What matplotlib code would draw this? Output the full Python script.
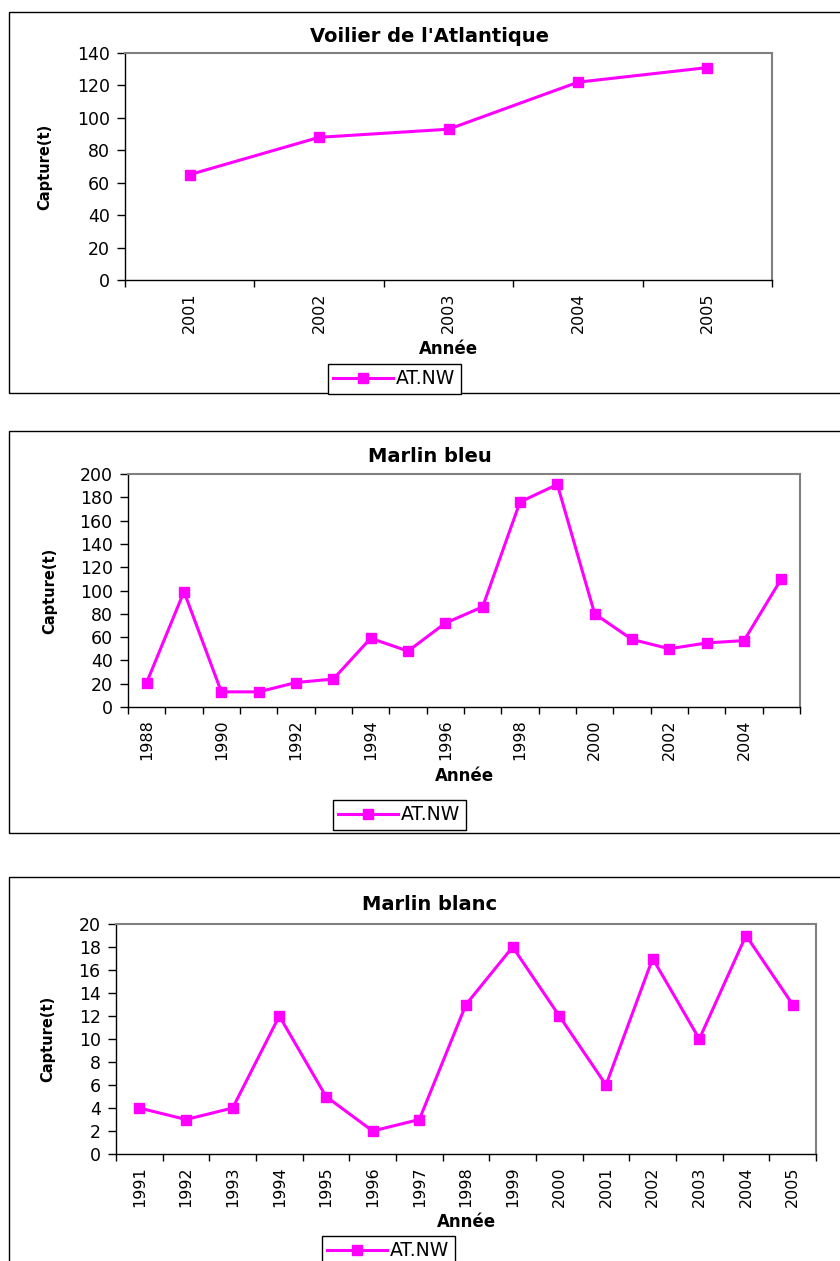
import matplotlib.pyplot as plt
from matplotlib.patches import Rectangle
from matplotlib.ticker import FixedLocator, NullFormatter

plt.rcParams['font.family'] = ['DejaVu Sans']

# Voilier de l'Atlantique
years_voilier = ['2001', '2002', '2003', '2004', '2005']
catch_voilier = [65, 88, 93, 122, 131]

# Marlin bleu
years_bleu = [str(y) for y in range(1988, 2006)]
catch_bleu = [21, 99, 13, 13, 21, 24, 59, 48, 72, 86, 176, 191, 80, 58, 50, 55, 57, 110]

# Marlin blanc
years_blanc = [str(y) for y in range(1991, 2006)]
catch_blanc = [4, 3, 4, 12, 5, 2, 3, 13, 18, 12, 6, 17, 10, 19, 13]

series_name = 'AT.NW'
W, H = 840, 1261
MAG = '#FF00FF'

fig = plt.figure(figsize=(W / 100, H / 100), dpi=100)
fig.patch.set_facecolor('white')


def px_box(x0, y0, x1, y1):
    return [x0 / W, 1 - y1 / H, (x1 - x0) / W, (y1 - y0) / H]


def panel(frame, box, title, title_y, ylab_x, xlab_y, leg_box,
          labels, values, ymax, ystep, label_every=1):
    # cadre du graphique
    fx0, fy0, fx1, fy1 = frame
    fig.add_artist(Rectangle((fx0 / W, 1 - fy1 / H), (fx1 - fx0) / W, (fy1 - fy0) / H,
                             transform=fig.transFigure, fill=False,
                             edgecolor='black', linewidth=1.0))
    ax = fig.add_axes(px_box(*box))
    n = len(values)
    x = list(range(n))
    ax.plot(x, values, color=MAG, linewidth=2.2, marker='s', markersize=6.5,
            markerfacecolor=MAG, markeredgecolor=MAG, label=series_name)
    ax.set_xlim(-0.5, n - 0.5)
    ax.set_ylim(0, ymax)
    ax.set_yticks(range(0, ymax + 1, ystep))
    ax.tick_params(axis='y', direction='out', length=6, width=1, labelsize=12.5, pad=5)

    major = [i for i in x if i % label_every == 0]
    ax.set_xticks(major)
    ax.set_xticklabels([labels[i] for i in major], rotation=90)
    ax.xaxis.set_minor_locator(FixedLocator([i - 0.5 for i in range(n + 1)]))
    ax.xaxis.set_minor_formatter(NullFormatter())
    ax.tick_params(axis='x', which='major', length=0, labelsize=11.5, pad=9)
    ax.tick_params(axis='x', which='minor', direction='out', length=5, width=1)

    for s in ['left', 'bottom']:
        ax.spines[s].set_color('black')
        ax.spines[s].set_linewidth(1.0)
    for s in ['top', 'right']:
        ax.spines[s].set_color('#808080')
        ax.spines[s].set_linewidth(1.5)

    bx0, by0, bx1, by1 = box
    fig.text(430 / W, 1 - title_y / H, title, ha='center', va='center',
             fontsize=14, fontweight='bold')
    fig.text(ylab_x / W, 1 - (by0 + by1) / 2 / H, 'Capture(t)', ha='center',
             va='center', rotation=90, fontsize=10.5, fontweight='bold')
    fig.text((bx0 + bx1) / 2 / W, 1 - xlab_y / H, 'Année', ha='center',
             va='center', fontsize=12, fontweight='bold')

    lx0, ly0, lx1, ly1 = leg_box
    leg = fig.legend(handles=ax.get_lines(), loc='center',
                     bbox_to_anchor=((lx0 + lx1) / 2 / W, 1 - (ly0 + ly1) / 2 / H),
                     bbox_transform=fig.transFigure, fontsize=13.5,
                     fancybox=False, framealpha=1, edgecolor='black',
                     handlelength=3.2, handletextpad=0.15, borderpad=0.3,
                     borderaxespad=0)
    leg.get_frame().set_linewidth(1.0)
    return ax


panel((9, 12, 850, 393), (125, 53, 772, 280), "Voilier de l'Atlantique", 36, 45, 349,
      (322, 365, 467, 393), years_voilier, catch_voilier, 140, 20)

panel((9, 431, 850, 833), (128, 474, 800, 707), 'Marlin bleu', 457, 50, 776,
      (327, 800, 472, 830), years_bleu, catch_bleu, 200, 20, label_every=2)

panel((9, 877, 850, 1280), (116, 924, 816, 1154), 'Marlin blanc', 904, 48, 1222,
      (320, 1237, 457, 1265), years_blanc, catch_blanc, 20, 2)

fig.savefig('out.png', dpi=100, facecolor='white')
